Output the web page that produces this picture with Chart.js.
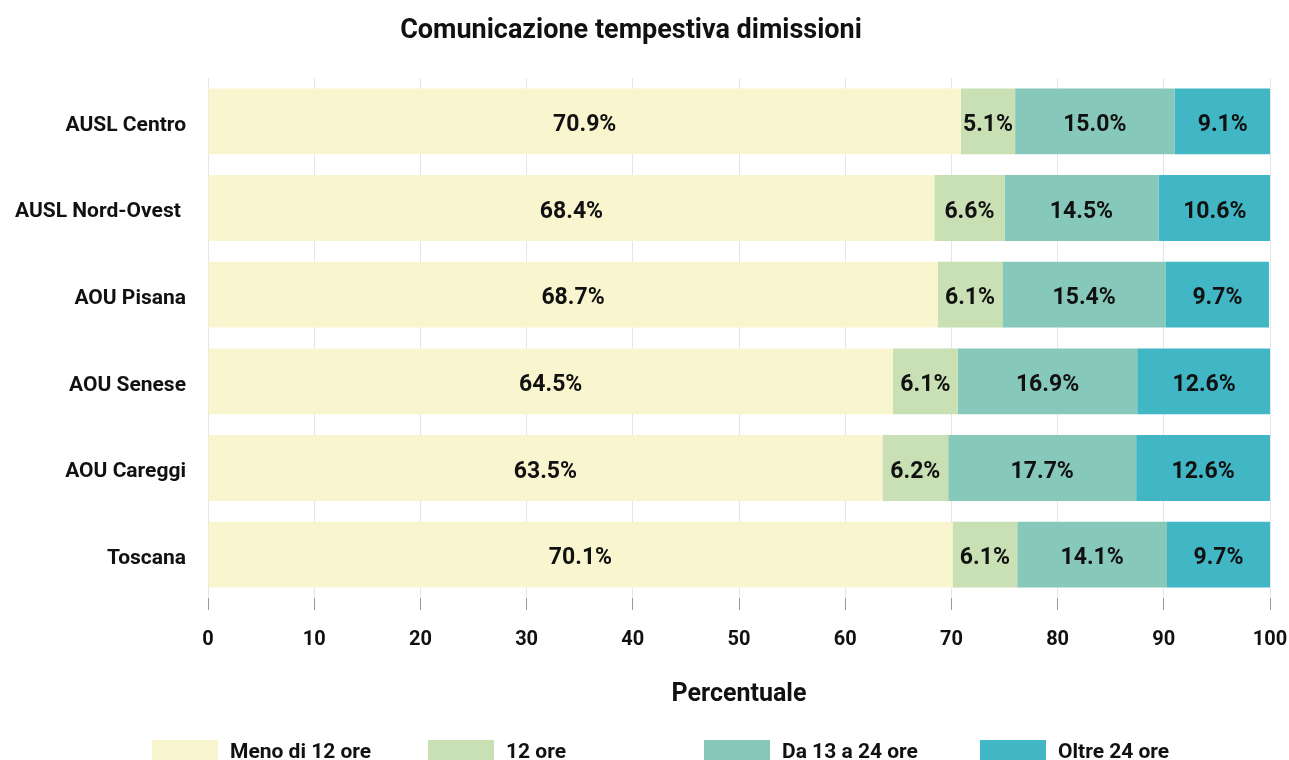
<!DOCTYPE html>
<html>
<head>
<meta charset="utf-8">
<script src="https://cdn.jsdelivr.net/npm/chart.js@4.4.1/dist/chart.umd.min.js"></script>
<style>
  html, body { margin: 0; padding: 0; background: #ffffff; }
  #wrap { width: 1289px; height: 760px; }
</style>
</head>
<body>
<div id="wrap"><canvas id="c" width="1289" height="760"></canvas></div>
<script>
const chartTitle = 'Comunicazione tempestiva dimissioni';
const axisTitle = 'Percentuale';
const categories = ['AUSL Centro', 'AUSL Nord-Ovest ', 'AOU Pisana', 'AOU Senese', 'AOU Careggi', 'Toscana'];
const seriesNames = ['Meno di 12 ore', '12 ore', 'Da 13 a 24 ore', 'Oltre 24 ore'];
const menoDi12 = [70.9, 68.4, 68.7, 64.5, 63.5, 70.1];
const dodiciOre = [5.1, 6.6, 6.1, 6.1, 6.2, 6.1];
const da13a24 = [15.0, 14.5, 15.4, 16.9, 17.7, 14.1];
const oltre24 = [9.1, 10.6, 9.7, 12.6, 12.6, 9.7];
const xTicks = [0, 10, 20, 30, 40, 50, 60, 70, 80, 90, 100];

const colors = ['#f9f6cf', '#c9e0b5', '#86c8b9', '#41b6c4'];
const FONT = 'Roboto, "Liberation Sans", sans-serif';

const valuesPlugin = {
  id: 'values',
  afterDatasetsDraw(chart) {
    const ctx = chart.ctx;
    ctx.save();
    ctx.font = 'bold 23px ' + FONT;
    ctx.fillStyle = '#111111';
    ctx.textAlign = 'center';
    ctx.textBaseline = 'middle';
    chart.data.datasets.forEach((ds, i) => {
      const meta = chart.getDatasetMeta(i);
      meta.data.forEach((el, j) => {
        const cx = (el.x + el.base) / 2;
        ctx.fillText(ds.data[j].toFixed(1) + '%', cx, el.y + 4);
      });
    });
    ctx.restore();
  }
};

const titleLegendPlugin = {
  id: 'titleLegend',
  afterDraw(chart) {
    const ctx = chart.ctx;
    ctx.save();
    ctx.fillStyle = '#111111';
    ctx.font = 'bold 27px ' + FONT;
    ctx.textAlign = 'center';
    ctx.textBaseline = 'middle';
    ctx.fillText(chartTitle, 631, 31);
    // legend
    ctx.font = 'bold 21px ' + FONT;
    ctx.textAlign = 'left';
    chart.data.datasets.forEach((ds, i) => {
      const bx = 152 + i * 276;
      ctx.fillStyle = ds.backgroundColor;
      ctx.fillRect(bx, 740, 66, 24);
      ctx.fillStyle = '#111111';
      ctx.fillText(ds.label, bx + 78, 753);
    });
    ctx.restore();
  }
};

const seriesData = [menoDi12, dodiciOre, da13a24, oltre24];

new Chart(document.getElementById('c'), {
  type: 'bar',
  data: {
    labels: categories,
    datasets: seriesNames.map((name, i) => ({
      label: name,
      data: seriesData[i],
      backgroundColor: colors[i],
      borderWidth: 0,
      categoryPercentage: 1.0,
      barPercentage: 0.76
    }))
  },
  options: {
    indexAxis: 'y',
    responsive: false,
    animation: false,
    devicePixelRatio: 1,
    layout: { padding: { top: 78, right: 19, bottom: 50, left: 0 } },
    plugins: {
      legend: { display: false },
      title: { display: false },
      tooltip: { enabled: false }
    },
    scales: {
      x: {
        stacked: true,
        min: 0,
        max: 100,
        afterBuildTicks(scale) { scale.ticks = xTicks.map(v => ({ value: v })); },
        afterFit(scale) { scale.height = 112; scale.paddingRight = 0; scale.paddingLeft = 0; },
        grid: {
          color: '#e6e6e6',
          lineWidth: 1,
          drawTicks: true,
          tickLength: 12,
          tickColor: '#9a9a9a'
        },
        border: { display: false },
        ticks: {
          color: '#111111',
          font: { family: FONT, size: 20, weight: 'bold' },
          padding: 18,
          maxRotation: 0
        },
        title: {
          display: true,
          text: axisTitle,
          color: '#111111',
          font: { family: FONT, size: 25, weight: 'bold' },
          padding: { top: 0, bottom: 0 }
        }
      },
      y: {
        stacked: true,
        afterFit(scale) { scale.width = 208; },
        grid: { display: false, drawTicks: false },
        border: { display: false },
        ticks: {
          color: '#111111',
          font: { family: FONT, size: 21, weight: 'bold' },
          padding: 22,
          labelOffset: 4
        }
      }
    }
  },
  plugins: [valuesPlugin, titleLegendPlugin]
});
</script>
</body>
</html>
